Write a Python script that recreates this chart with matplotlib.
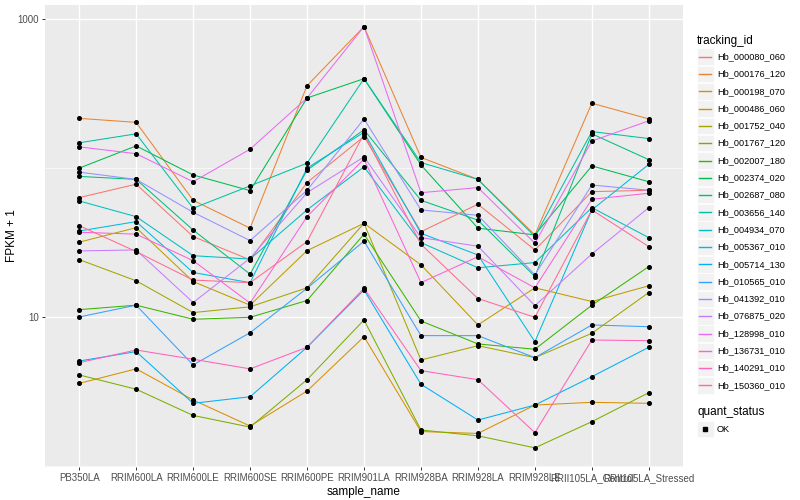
import matplotlib
matplotlib.use("Agg")
import matplotlib.pyplot as plt
from matplotlib.patches import Rectangle
from matplotlib.lines import Line2D

plt.rcParams['font.family'] = ['Liberation Sans', 'DejaVu Sans']

samples = ['PB350LA', 'RRIM600LA', 'RRIM600LE', 'RRIM600SE', 'RRIM600PE', 'RRIM901LA',
           'RRIM928BA', 'RRIM928LA', 'RRIM928LE', 'RRII105LA_Control', 'RRII105LA_Stressed']

tracking_ids = ['Hb_000080_060', 'Hb_000176_120', 'Hb_000198_070', 'Hb_000486_060',
                'Hb_001752_040', 'Hb_001767_120', 'Hb_002007_180', 'Hb_002374_020',
                'Hb_002687_080', 'Hb_003656_140', 'Hb_004934_070', 'Hb_005367_010',
                'Hb_005714_130', 'Hb_010565_010', 'Hb_041392_010', 'Hb_076875_020',
                'Hb_128998_010', 'Hb_136731_010', 'Hb_140291_010', 'Hb_150360_010']

# ggplot hue palette, 20 levels
colors = ['#F8766D', '#EA8331', '#D89000', '#C09B00', '#A3A500', '#7CAE00', '#39B600',
          '#00BB4E', '#00BF7D', '#00C1A3', '#00BFC4', '#00BAE0', '#00B0F6', '#35A2FF',
          '#9590FF', '#C77CFF', '#E76BF3', '#FA62DB', '#FF62BC', '#FF6C91']

# FPKM + 1 per sample
hb_000080_060 = [63.4, 78, 34.7, 24.2, 80, 163, 37.4, 57.2, 28.2, 69.5, 71]
hb_000176_120 = [216, 203, 60.8, 39.5, 358, 893, 118, 84, 35.6, 273, 214]
hb_000198_070 = [3.58, 4.48, 2.77, 1.85, 3.18, 7.37, 1.70, 1.65, 2.56, 2.67, 2.63]
hb_000486_060 = [31.8, 39.8, 17.3, 12.0, 27.9, 42.6, 22.4, 8.84, 15.7, 12.7, 16.2]
hb_001752_040 = [24.3, 17.5, 10.7, 11.7, 15.7, 42.6, 5.14, 6.41, 5.33, 7.77, 14.6]
hb_001767_120 = [4.08, 3.27, 2.18, 1.82, 3.79, 9.55, 1.74, 1.59, 1.32, 1.98, 3.10]
hb_002007_180 = [11.2, 12.0, 9.65, 9.95, 12.9, 36.0, 9.4, 6.59, 6.07, 12.0, 21.8]
hb_002374_020 = [100, 141, 90, 70.6, 296, 399, 105, 39.5, 35.6, 103.5, 81]
hb_002687_080 = [88, 84, 38.4, 19.4, 97, 181, 60.8, 44.7, 18.7, 170, 114]
hb_003656_140 = [148, 170, 53.8, 76, 108, 399, 109, 84, 34.7, 176, 158]
hb_004934_070 = [60.2, 47.2, 25.8, 24.5, 52.4, 102, 31.6, 21.4, 23.2, 54.3, 34.1]
hb_005367_010 = [37.8, 43.7, 19.9, 17.0, 100, 174, 36.5, 26.1, 6.82, 52.4, 106]
hb_005714_130 = [5.06, 5.85, 2.63, 2.91, 6.26, 15.2, 3.53, 2.03, 2.56, 3.97, 6.26]
hb_010565_010 = [10.0, 12.0, 4.76, 7.84, 15.6, 32.3, 7.49, 7.49, 5.33, 8.84, 8.6]
hb_041392_010 = [94, 84, 50.5, 32.6, 71, 214, 52.4, 48.2, 19.2, 77, 71]
hb_076875_020 = [27.8, 28.2, 12.5, 24.8, 68.4, 119, 34.1, 29.9, 11.9, 26.5, 54.3]
hb_128998_010 = [139, 125, 81, 134, 296, 893, 68.4, 74, 31.3, 152, 208]
hb_136731_010 = [37.1, 36.0, 23.9, 12.4, 47.2, 115, 17.0, 25.4, 15.7, 61.8, 67.8]
hb_140291_010 = [4.93, 6.0, 5.2, 4.48, 6.26, 15.6, 4.36, 3.79, 1.67, 7.0, 6.93]
hb_150360_010 = [41.1, 27.5, 17.7, 17.0, 32.1, 170, 30.8, 13.3, 9.95, 52.4, 29.7]

series = [hb_000080_060, hb_000176_120, hb_000198_070, hb_000486_060, hb_001752_040,
          hb_001767_120, hb_002007_180, hb_002374_020, hb_002687_080, hb_003656_140,
          hb_004934_070, hb_005367_010, hb_005714_130, hb_010565_010, hb_041392_010,
          hb_076875_020, hb_128998_010, hb_136731_010, hb_140291_010, hb_150360_010]

W, H = 800, 500
fig = plt.figure(figsize=(8, 5), dpi=100)
fig.patch.set_facecolor('white')

def fx(px):
    return px / W

def fy(py):
    return 1 - py / H

ax = fig.add_axes([fx(45), fy(467), fx(683 - 45), (467 - 5) / H])
ax.set_facecolor('#EBEBEB')
for s in ax.spines.values():
    s.set_visible(False)

xs = list(range(len(samples)))
for vals, c in zip(series, colors):
    ax.plot(xs, vals, color=c, lw=0.75, zorder=2)
for vals in series:
    ax.plot(xs, vals, ls='none', marker='o', ms=2.6, color='black', zorder=3)

ax.set_yscale('log')
ax.set_ylim(10 ** -0.008, 10 ** 3.096)
ax.set_xlim(-0.6, len(samples) - 0.4)
ax.set_yticks([10, 1000])
ax.set_yticklabels(['10', '1000'])
ax.set_yticks([1, 100], minor=True)
ax.yaxis.set_minor_formatter(matplotlib.ticker.NullFormatter())
ax.set_xticks(xs)
ax.set_xticklabels(samples)

ax.grid(True, which='major', color='white', lw=1.0, zorder=0)
ax.grid(True, which='minor', axis='y', color='white', lw=0.45, zorder=0)
ax.set_axisbelow(True)
ax.tick_params(axis='both', which='major', length=2.5, width=0.7, color='#333333',
               labelsize=7, labelcolor='#4D4D4D', pad=2)
ax.tick_params(axis='y', which='minor', length=0)

ax.set_xlabel('sample_name', fontsize=8.5, labelpad=2)
ax.set_ylabel('FPKM + 1', fontsize=8.5, va='center')
ax.yaxis.set_label_coords((12 - 45) / (683 - 45), 0.5)

# legend drawn by hand, ggplot style
fig.text(fx(697), fy(41), 'tracking_id', fontsize=8.5, va='center', ha='left')
step = 17.3
y0 = 56.7
for i, (name, c) in enumerate(zip(tracking_ids, colors)):
    yc = y0 + i * step
    fig.add_artist(Rectangle((fx(697), fy(yc + 8.3)), 17 / W, 16.6 / H,
                             facecolor='#F2F2F2', edgecolor='white', lw=0.5,
                             transform=fig.transFigure, zorder=1))
    fig.add_artist(Line2D([fx(699), fx(711)], [fy(yc), fy(yc)], color=c, lw=1.0,
                          transform=fig.transFigure, zorder=2))
    fig.text(fx(717), fy(yc), name, fontsize=6.6, va='center', ha='left')

fig.text(fx(697), fy(412), 'quant_status', fontsize=8.5, va='center', ha='left')
fig.add_artist(Rectangle((fx(697), fy(429 + 8.3)), 17 / W, 16.6 / H,
                         facecolor='#F2F2F2', edgecolor='white', lw=0.5,
                         transform=fig.transFigure, zorder=1))
fig.add_artist(Line2D([fx(705)], [fy(429)], ls='none', marker='s', ms=2.6,
                      color='black', transform=fig.transFigure, zorder=2))
fig.text(fx(717), fy(429), 'OK', fontsize=6.6, va='center', ha='left')

fig.savefig('out.png', dpi=100)
